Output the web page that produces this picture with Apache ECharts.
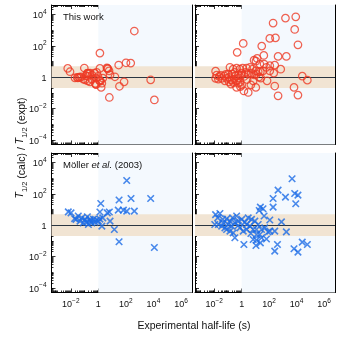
<!DOCTYPE html>
<html>
<head>
<meta charset="utf-8">
<script src="https://cdn.jsdelivr.net/npm/echarts@6/dist/echarts.min.js"></script>
<style>
  html, body { margin: 0; padding: 0; background: #fff; }
  #chart { width: 341px; height: 341px; }
</style>
</head>
<body>
<div id="chart"></div>
<script>
// [experimental half-life (s), T1/2 calc / T1/2 expt]
const workLeft = [
  [410, 870], [1.3, 34], [0.006, 3.6], [0.0088, 2.2], [0.096, 3.8], [1.3, 3.6], [4.5, 3.6],
  [6, 2.5], [30, 5.9], [102, 8.2], [225, 7.8], [0.02, 0.9], [0.032, 0.9], [0.055, 1.05],
  [0.081, 0.75], [0.13, 1.2], [0.17, 1.8], [0.25, 1.8], [0.51, 1.8], [0.76, 2.0], [0.17, 0.58],
  [0.33, 0.75], [0.65, 0.36], [1.3, 0.58], [1.6, 0.22], [1.8, 0.41], [2.1, 0.86], [7.1, 1.4],
  [16, 1.05], [34, 0.26], [74, 0.5], [6300, 0.67], [6.3, 0.05], [11700, 0.035], [0.25, 0.5],
  [0.11, 0.67], [0.04, 1.0], [0.35, 1.35], [0.7, 0.86], [0.18, 1.1], [0.95, 1.1],
  [0.03, 0.95], [0.045, 0.92], [0.15, 1.7], [0.2, 1.75], [0.6, 0.4], [0.7, 0.33],
  [1.2, 0.62], [1.4, 0.55], [4.2, 3.9], [5, 3.4]
]
const workRight = [
  [8700, 7000], [1550, 5800], [195, 2800], [7300, 1100], [112, 295], [290, 320], [1.3, 140],
  [12600, 115], [29, 95], [0.47, 38], [41, 24], [450, 21], [1800, 21], [8, 12], [13.5, 15.5],
  [11, 10.5], [21, 6.8], [43, 6.8], [112, 5.3], [257, 5.8], [700, 3.2], [23, 2.2], [112, 2.5],
  [218, 1.8], [26000, 1.16], [61000, 0.64], [0.0126, 2.4], [0.14, 4.2], [0.24, 3.2],
  [0.43, 3.75], [0.74, 3.2], [1.17, 3.75], [2.3, 3.75], [4, 4.2], [6.2, 3.2], [10.7, 2.5],
  [16, 2.2], [0.015, 1.34], [0.023, 1.1], [0.035, 0.83], [0.054, 1.2], [0.08, 0.83],
  [0.12, 0.96], [0.19, 0.64], [0.29, 0.75], [0.43, 0.58], [0.56, 0.41], [0.74, 0.46],
  [1.0, 0.31], [0.165, 0.36], [0.43, 0.22], [1.45, 0.13], [3, 0.105], [4.7, 0.32], [6.9, 0.58],
  [10.7, 0.22], [25, 0.86], [71, 0.58], [257, 0.27], [450, 0.064], [6500, 0.22], [12600, 0.071],
  [0.0126, 0.83], [0.02, 0.75], [0.06, 0.58], [0.105, 1.55], [0.32, 2.0], [0.2, 1.55],
  [0.56, 1.34], [1.0, 1.8], [2, 2.0], [3, 1.55], [12, 1.55], [36, 2.5], [64, 4.2], [0.03, 1.3],
  [0.07, 1.5], [0.15, 0.7], [0.35, 1.2], [0.6, 0.9], [0.9, 1.4], [1.5, 1.1], [2.5, 0.7],
  [0.25, 0.45], [0.8, 0.25], [0.12, 0.5], [5, 1.8], [8, 1.4], [18, 1.0]
]
const mollerLeft = [
  [115, 700], [1.5, 24], [32, 40], [236, 50], [6300, 50], [0.0066, 7], [0.0104, 6], [28, 9],
  [66, 9], [115, 7.8], [410, 7.8], [1.3, 6.8], [4.5, 6], [6.3, 6.8], [0.019, 2.6], [0.035, 3.8],
  [0.063, 2.9], [0.11, 2.3], [0.16, 3.4], [0.25, 2.3], [0.44, 2.4], [0.76, 2.1], [1.3, 2.4],
  [2.1, 2.9], [1.8, 0.86], [7.1, 1.8], [14.5, 0.52], [32, 0.086], [11700, 0.037], [0.081, 1.4],
  [0.14, 1.55], [0.33, 1.4], [0.57, 1.55], [0.19, 1.1], [0.047, 1.8], [0.25, 1.8], [1.0, 1.8],
  [0.024, 2.3]
]
const mollerRight = [
  [4700, 900], [450, 170], [195, 50], [1550, 61], [7300, 104], [12600, 82], [8700, 23],
  [195, 14], [23, 14], [36, 11], [19, 8.5], [43, 3.8], [112, 2.1], [790, 1.6], [1800, 0.37],
  [257, 0.41], [84, 0.36], [405, 0.058], [257, 0.022], [6500, 0.031], [12600, 0.019],
  [26000, 0.082], [61000, 0.058], [1.45, 0.058], [23, 0.074], [11, 0.05], [64, 0.13],
  [12, 0.11], [28, 0.155], [6.9, 0.12], [21, 0.25], [0.0126, 4.7], [0.026, 5.5], [0.018, 2.9],
  [0.041, 2.3], [0.02, 1.1], [0.011, 1.1], [0.035, 0.86], [0.06, 0.67], [0.08, 0.52],
  [0.14, 0.41], [0.24, 0.32], [0.32, 0.155], [0.19, 0.86], [0.32, 1.4], [0.56, 1.8], [1.0, 2.3],
  [1.7, 1.55], [3, 2.9], [5.2, 2.3], [9.1, 1.8], [4, 0.86], [6.9, 0.52], [2.3, 0.52],
  [0.74, 0.67], [1.3, 0.41], [12, 0.52], [16, 1.1], [0.43, 3.8], [0.14, 1.8], [0.08, 2.5],
  [0.22, 2.9], [0.046, 1.4], [0.105, 1.1], [0.56, 0.95], [2.3, 1.1], [12, 0.25], [4.7, 0.29],
  [28, 0.52], [48, 0.67], [112, 0.41]
]

const xLabelTicks = [1e-2, 1, 1e2, 1e4, 1e6]
const yLabelTicks = [1e-4, 1e-2, 1, 1e2, 1e4]
const bandLow = 0.2
const bandHigh = 5

const xMin = Math.pow(10, -3.4), xMax = Math.pow(10, 6.8)
const yMin = Math.pow(10, -4.3), yMax = Math.pow(10, 4.6)

const FONT = 'Liberation Sans'
const RED = '#ee3b26'
const BLUE = '#1b6ce6'

// minor ticks at 2..9 of every decade plus odd decades
function minorTicks(lo, hi, majors) {
  const out = []
  for (let n = -5; n <= 7; n++) {
    for (let k = 1; k <= 9; k++) {
      const v = k * Math.pow(10, n)
      if (v <= lo || v >= hi) continue
      if (k === 1 && majors.some(m => Math.abs(Math.log10(m) - n) < 1e-9)) continue
      out.push(v)
    }
  }
  return out
}
const xMinor = minorTicks(xMin, xMax, xLabelTicks)
const yMinor = minorTicks(yMin, yMax, yLabelTicks)

function powLabel(v) {
  const e = Math.round(Math.log10(v))
  if (e === 0) return '{b|1}'
  return '{b|10}{s|' + (e < 0 ? '\u2212' : '') + Math.abs(e) + '}'
}
const labelRich = {
  b: { fontFamily: FONT, fontSize: 9, color: '#111', lineHeight: 12, verticalAlign: 'bottom' },
  s: { fontFamily: FONT, fontSize: 6.5, color: '#111', lineHeight: 7, verticalAlign: 'top' }
}

const grids = [
  { left: 51.5, top: 5, width: 140.5, height: 139.5 },
  { left: 195, top: 5, width: 140, height: 139.5 },
  { left: 51.5, top: 153, width: 140.5, height: 139.5 },
  { left: 195, top: 153, width: 140, height: 139.5 }
]

const tickLine = { color: '#000', width: 0.8 }

function axisSet(dim, g, showLabel) {
  const isX = dim === 'x'
  const base = {
    type: 'log', gridIndex: g,
    min: isX ? xMin : yMin, max: isX ? xMax : yMax,
    splitLine: { show: false },
    axisLine: { show: true, onZero: false, lineStyle: { color: '#000', width: 1 } }
  }
  const majors = isX ? xLabelTicks : yLabelTicks
  const minors = isX ? xMinor : yMinor
  const sides = isX ? ['bottom', 'top'] : ['left', 'right']
  const out = []
  sides.forEach((side, si) => {
    out.push(Object.assign({}, base, {
      position: side,
      axisTick: { inside: true, length: 4, customValues: majors, lineStyle: tickLine },
      axisLabel: {
        show: showLabel && si === 0, customValues: majors, formatter: powLabel,
        rich: labelRich, margin: 5
      }
    }))
    out.push(Object.assign({}, base, {
      position: side,
      axisLine: { show: false },
      axisTick: { inside: true, length: 2, customValues: minors, lineStyle: tickLine },
      axisLabel: { show: false }
    }))
  })
  return out
}

const xAxis = [], yAxis = []
grids.forEach((gr, g) => {
  xAxis.push(...axisSet('x', g, g >= 2))
  yAxis.push(...axisSet('y', g, g % 2 === 0))
})

const crossPath = 'path://M0,0L10,10M0,10L10,0'

function panelSeries(g, points, isCircle) {
  return {
    type: 'scatter',
    xAxisIndex: 4 * g, yAxisIndex: 4 * g,
    data: points,
    symbol: isCircle ? 'circle' : crossPath,
    symbolSize: isCircle ? 7.5 : 6.5,
    itemStyle: isCircle
      ? { color: 'rgba(0,0,0,0)', borderColor: RED, borderWidth: 1.25 }
      : { color: 'rgba(0,0,0,0)', borderColor: BLUE, borderWidth: 1.6 },
    z: 5,
    markArea: {
      silent: true,
      data: [
        [{ xAxis: 1, yAxis: yMin, itemStyle: { color: '#f4f9fe' } }, { xAxis: xMax, yAxis: yMax }],
        [{ xAxis: xMin, yAxis: bandLow, itemStyle: { color: '#f1e4d3' } }, { xAxis: xMax, yAxis: bandHigh }]
      ]
    },
    markLine: {
      silent: true, symbol: 'none', label: { show: false },
      lineStyle: { color: '#2a3541', width: 1.2, type: 'solid' },
      data: [{ yAxis: 1 }]
    }
  }
}

const chart = echarts.init(document.getElementById('chart'))
chart.setOption({
  animation: false,
  backgroundColor: '#fff',
  grid: grids,
  xAxis: xAxis,
  yAxis: yAxis,
  series: [
    panelSeries(0, workLeft, true),
    panelSeries(1, workRight, true),
    panelSeries(2, mollerLeft, false),
    panelSeries(3, mollerRight, false)
  ],
  graphic: [
    { type: 'text', left: 63, top: 12, z: 10,
      style: { text: 'This work', fontFamily: FONT, fontSize: 9.5, fill: '#111' } },
    { type: 'text', left: 63, top: 160, z: 10,
      style: {
        text: 'M\u00f6ller {i|et al.} (2003)', fontFamily: FONT, fontSize: 9.5, fill: '#111',
        rich: { i: { fontFamily: FONT, fontSize: 9.5, fontStyle: 'italic', fill: '#111' } }
      } },
    { type: 'text', x: 22, y: 148, rotation: Math.PI / 2, z: 10,
      style: {
        text: '{i|T}{sub|1/2} (calc) / {i|T}{sub|1/2} (expt)',
        fontFamily: FONT, fontSize: 10.5, fill: '#111', align: 'center', verticalAlign: 'middle',
        rich: {
          i: { fontFamily: FONT, fontSize: 10.5, fontStyle: 'italic', fill: '#111', lineHeight: 14, verticalAlign: 'top' },
          sub: { fontFamily: FONT, fontSize: 7.5, fill: '#111', lineHeight: 9, verticalAlign: 'bottom' }
        }
      } },
    { type: 'text', x: 194, y: 326, z: 10,
      style: {
        text: 'Experimental half-life (s)', fontFamily: FONT, fontSize: 10.5, fill: '#111',
        align: 'center', verticalAlign: 'middle'
      } }
  ]
})
</script>
</body>
</html>
